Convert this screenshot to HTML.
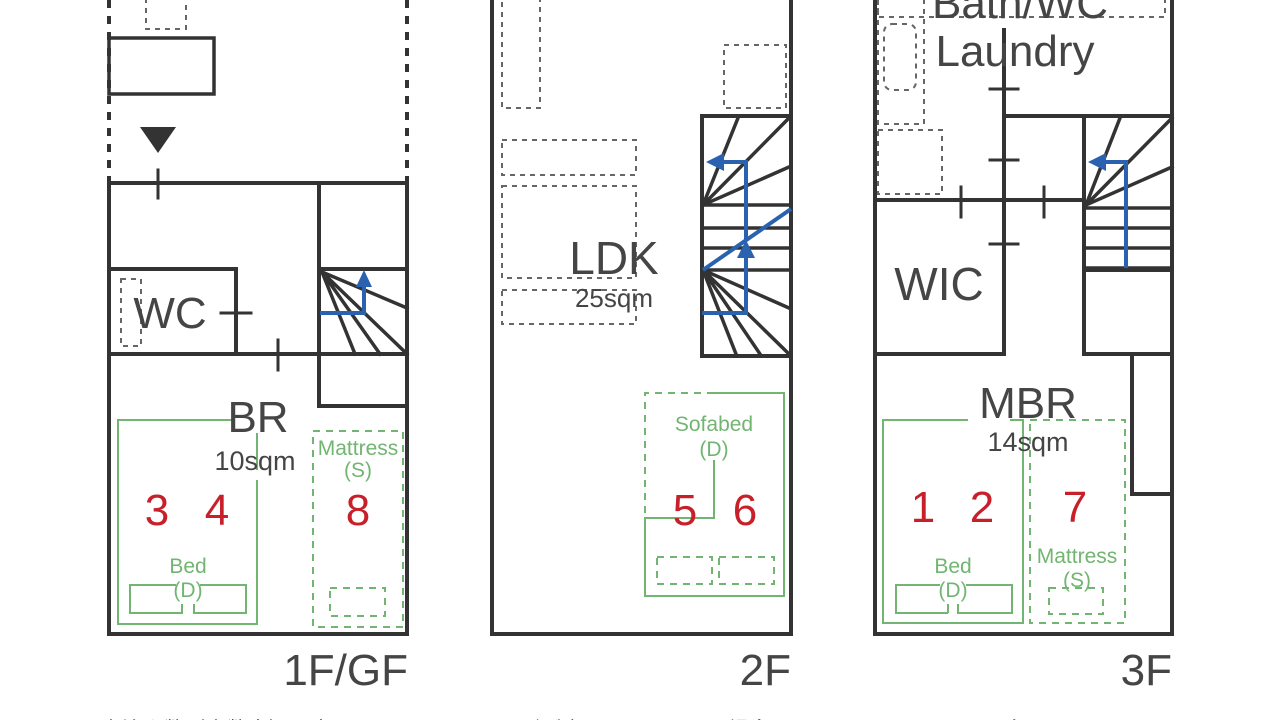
<!DOCTYPE html>
<html><head><meta charset="utf-8"><style>
html,body{margin:0;padding:0;background:#fff;width:1280px;height:720px;overflow:hidden}
svg{display:block}
text{font-family:"Liberation Sans","Noto Sans CJK JP",sans-serif}
</style></head><body>
<svg width="1280" height="720" viewBox="0 0 1280 720" xmlns="http://www.w3.org/2000/svg">
<g stroke="#333" stroke-width="4" fill="none" stroke-linecap="square">
<line x1="109" y1="0" x2="109" y2="183" stroke-dasharray="8,8" stroke-linecap="butt"/>
<line x1="407" y1="0" x2="407" y2="183" stroke-dasharray="8,8" stroke-linecap="butt"/>
<rect x="109" y="38" width="105" height="56" stroke-width="3.5"/>
<path d="M109 183H407V634H109Z"/>
<line x1="158" y1="170" x2="158" y2="198" stroke-width="3"/>
<path d="M319 183V406H407M319 269H407M319 354H407"/>
<path d="M109 269H236V354M109 354H319"/>
<line x1="221" y1="313" x2="251" y2="313" stroke-width="3"/>
<line x1="278" y1="340" x2="278" y2="370" stroke-width="3"/>
<path d="M322 272L407 308M322 272L407 354M322 272L380 354M322 272L355 354" stroke-width="3.5"/>
<path d="M492 0V634H791V0"/>
<rect x="702" y="116" width="89" height="240"/>
<path d="M703 205L738 118M703 205L789 118M703 205L789 167M703 205H789M703 228H789M703 248H789M703 270H789" stroke-width="3.5"/>
<path d="M703 270L789 308M703 270L789 354M703 270L736 354M703 270L760 354" stroke-width="3.5"/>
<path d="M875 0V634H1172V0"/>
<path d="M1004 30V354M875 200H1084M875 354H1004M1004 116H1172M1084 116V354H1172M1084 270H1172M1132 354V494H1172"/>
<path d="M990 89H1018M990 160H1018M990 244H1018M961 187V217M1044 187V217" stroke-width="3"/>
<path d="M1086 205L1120 118M1086 205L1172 118M1086 205L1172 167M1086 208H1172M1086 228H1172M1086 248H1172M1086 268H1172" stroke-width="3.5"/>
</g>
<polygon points="140,127 176,127 158,153" fill="#333"/>
<g stroke="#666" stroke-width="2" fill="none" stroke-dasharray="5,5">
<rect x="146" y="-5" width="40" height="34"/>
<rect x="502" y="-5" width="38" height="113"/>
<rect x="724" y="45" width="62" height="63"/>
<rect x="502" y="140" width="134" height="35"/>
<rect x="502" y="186" width="134" height="92"/>
<rect x="502" y="290" width="134" height="34"/>
<rect x="121" y="279" width="20" height="67"/>
<rect x="878" y="-5" width="287" height="22"/>
<rect x="878" y="-5" width="46" height="129"/>
<rect x="884" y="24" width="32" height="66" rx="8"/>
<rect x="878" y="130" width="64" height="64"/>
</g>
<g stroke="#2a62b0" stroke-width="4" fill="none">
<path d="M320 313H364V285"/>
<path d="M702 313H746V256M746 240V162H722"/>
<line x1="703" y1="270" x2="791" y2="209"/>
<path d="M1126 268V162H1106"/>
</g>
<g fill="#2a62b0">
<polygon points="364,270 356,287 372,287"/>
<polygon points="746,240 737,258 755,258"/>
<polygon points="706,162 724,153 724,171"/>
<polygon points="1088,162 1106,153 1106,171"/>
</g>
<g stroke="#72b572" stroke-width="2" fill="none">
<path d="M232 420H118V624H257V480M257 470V433"/>
<path d="M183 613H130V585H176M182 613V604M194 604V613H246V585H200"/>
<path d="M714 393H784V596H645V518H714V460"/>
<path d="M968 420H883V623H1023V420H1010"/>
<path d="M948 613H896V585H940M948 613V604M958 604V613H1012V585H966"/>
</g>
<g stroke="#72b572" stroke-width="2" fill="none" stroke-dasharray="7,6">
<rect x="313" y="431" width="90" height="196"/>
<rect x="330" y="588" width="55" height="28"/>
<path d="M714 393H645V518"/>
<rect x="657" y="557" width="55" height="27"/>
<rect x="719" y="557" width="55" height="27"/>
<rect x="1030" y="420" width="95" height="203"/>
<rect x="1049" y="588" width="54" height="26"/>
</g>
<g fill="#454545" text-anchor="middle">
<text x="170" y="328" font-size="44">WC</text>
<text x="258" y="432" font-size="44">BR</text>
<text x="255" y="470" font-size="27">10sqm</text>
<text x="614" y="274" font-size="46">LDK</text>
<text x="614" y="307" font-size="26">25sqm</text>
<text x="1020" y="18" font-size="44">Bath/WC</text>
<text x="1015" y="66" font-size="44">Laundry</text>
<text x="939" y="300" font-size="46">WIC</text>
<text x="1028" y="418" font-size="44">MBR</text>
<text x="1028" y="451" font-size="27">14sqm</text>
<text x="408" y="685" font-size="44" text-anchor="end">1F/GF</text>
<text x="791" y="685" font-size="44" text-anchor="end">2F</text>
<text x="1172" y="685" font-size="44" text-anchor="end">3F</text>
</g>
<g fill="#c8202a" text-anchor="middle" font-size="44">
<text x="157" y="525">3</text><text x="217" y="525">4</text><text x="358" y="525">8</text>
<text x="685" y="525">5</text><text x="745" y="525">6</text>
<text x="923" y="522">1</text><text x="982" y="522">2</text><text x="1075" y="522">7</text>
</g>
<g fill="#72b572" text-anchor="middle" font-size="21">
<text x="188" y="573">Bed</text><text x="188" y="597">(D)</text>
<text x="358" y="455">Mattress</text><text x="358" y="477">(S)</text>
<text x="714" y="431">Sofabed</text><text x="714" y="456">(D)</text>
<text x="953" y="573">Bed</text><text x="953" y="597">(D)</text>
<text x="1077" y="563">Mattress</text><text x="1077" y="587">(S)</text>
</g>
<text x="80" y="736" font-size="20" fill="#c8202a" letter-spacing="1">※宿泊人数（実数字）と表示でベッドメーキングが変わります。その場合は1F と3F のBed(D) の2名</text>
</svg>
</body></html>
